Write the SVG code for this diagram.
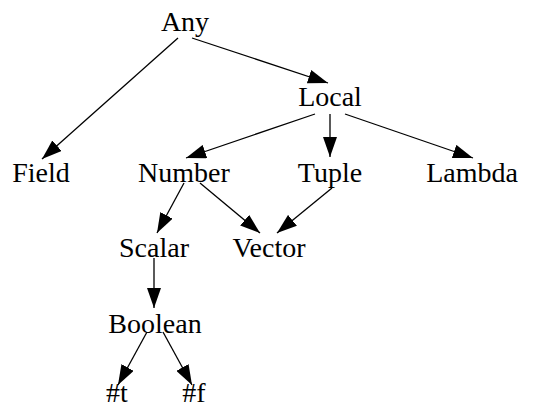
<svg xmlns="http://www.w3.org/2000/svg" width="545" height="409" viewBox="0 0 545 409">
<style>
text{font-family:"Liberation Serif","Times New Roman",serif;font-size:28px;fill:#000;text-anchor:middle}
.e line{stroke:#000;stroke-width:1.3;fill:none;marker-end:url(#ah)}
</style>
<defs>
<marker id="ah" markerUnits="userSpaceOnUse" markerWidth="20" markerHeight="14" refX="20" refY="7" orient="auto">
<path d="M0,0 L20,7 L0,14 z" fill="#000"/>
</marker>
</defs>
<rect width="545" height="409" fill="#fff"/>
<g id="connectors" class="e">
<line x1="178" y1="38" x2="42" y2="159"/>
<line x1="192" y1="38" x2="328" y2="83"/>
<line x1="315" y1="114" x2="186" y2="158"/>
<line x1="330" y1="114" x2="330" y2="157"/>
<line x1="345" y1="114" x2="473" y2="158"/>
<line x1="184" y1="183" x2="157" y2="233"/>
<line x1="200" y1="183" x2="260" y2="233"/>
<line x1="332" y1="188" x2="277" y2="233"/>
<line x1="154" y1="258" x2="154" y2="308"/>
<line x1="147" y1="332" x2="118" y2="385"/>
<line x1="163" y1="332" x2="192" y2="385"/>
</g>
<g id="n-any"><text x="185" y="31">Any</text></g>
<g id="n-local"><text x="330" y="106">Local</text></g>
<g id="n-field"><text x="41" y="182">Field</text></g>
<g id="n-number"><text x="184" y="182">Number</text></g>
<g id="n-tuple"><text x="330" y="182">Tuple</text></g>
<g id="n-lambda"><text x="472" y="182">Lambda</text></g>
<g id="n-scalar"><text x="154" y="257">Scalar</text></g>
<g id="n-vector"><text x="269" y="257">Vector</text></g>
<g id="n-boolean"><text x="155" y="333">Boolean</text></g>
<g id="n-t"><text x="117" y="402">#t</text></g>
<g id="n-f"><text x="194" y="402">#f</text></g>
</svg>
